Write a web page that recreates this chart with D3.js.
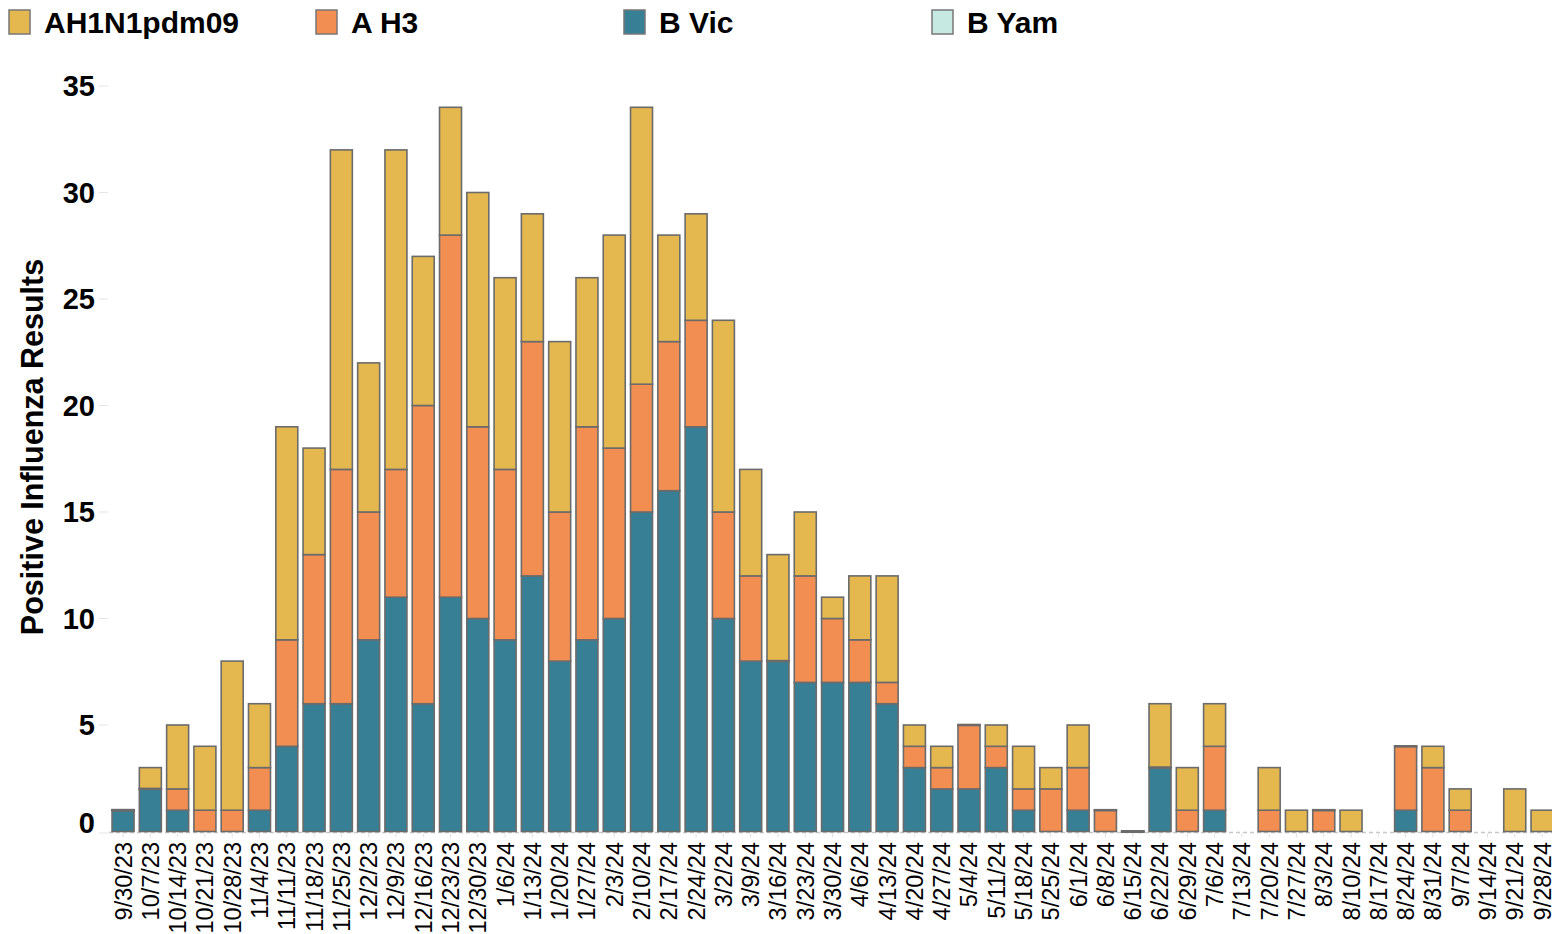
<!DOCTYPE html>
<html>
<head>
<meta charset="utf-8">
<script src="https://cdn.jsdelivr.net/npm/d3@7"></script>
<style>
  html, body { margin: 0; padding: 0; background: #fff; overflow: hidden; }
  svg { display: block; font-family: "Liberation Sans", Arial, sans-serif; }
</style>
</head>
<body>
<div id="chart"></div>
<script>
const weeks = ["9/30/23","10/7/23","10/14/23","10/21/23","10/28/23","11/4/23","11/11/23","11/18/23","11/25/23",
  "12/2/23","12/9/23","12/16/23","12/23/23","12/30/23","1/6/24","1/13/24","1/20/24","1/27/24","2/3/24","2/10/24",
  "2/17/24","2/24/24","3/2/24","3/9/24","3/16/24","3/23/24","3/30/24","4/6/24","4/13/24","4/20/24","4/27/24",
  "5/4/24","5/11/24","5/18/24","5/25/24","6/1/24","6/8/24","6/15/24","6/22/24","6/29/24","7/6/24","7/13/24",
  "7/20/24","7/27/24","8/3/24","8/10/24","8/17/24","8/24/24","8/31/24","9/7/24","9/14/24","9/21/24","9/28/24"];

// null = no results reported that week
const bYam = weeks.map((w, i) => [41, 46, 50].includes(i) ? null : 0);
const bVic = [1,2,1,0,0,1,4,6,6,9,11,6,11,10,9,12,8,9,10,15,16,19,10,8,8,7,7,7,6,3,2,2,3,1,0,1,0,0,3,0,1,null,0,0,0,0,null,1,0,0,null,0,0];
const aH3 = [0,0,1,1,1,2,5,7,11,6,6,14,17,9,8,11,7,10,8,6,7,5,5,4,0,5,3,2,1,1,1,3,1,1,2,2,1,0,0,1,3,null,1,0,1,0,null,3,3,1,null,0,0];
const aH1N1 = [0,1,3,3,7,3,10,5,15,7,15,7,6,11,9,6,8,7,10,13,5,5,9,5,5,3,1,3,5,1,1,0,1,2,1,2,0,0,3,2,2,null,2,1,0,1,null,0,1,1,null,2,1];

const legendNames = ["AH1N1pdm09", "A H3", "B Vic", "B Yam"];
const yTicks = [0, 5, 10, 15, 20, 25, 30, 35];

const series = [
  { name: "B Yam", values: bYam, color: "#c6e9e1" },
  { name: "B Vic", values: bVic, color: "#377f94" },
  { name: "A H3", values: aH3, color: "#f28e52" },
  { name: "AH1N1pdm09", values: aH1N1, color: "#e5b84f" }
];
const colorOf = name => series.find(s => s.name === name).color;

const width = 1552, height = 934;
const svg = d3.select('#chart').append('svg')
  .attr('width', width)
  .attr('height', height);

const xScale = d3.scaleBand()
  .domain(weeks)
  .range([109.4, 1555.7])
  .paddingInner(0.194)
  .paddingOuter(0.097);

const yScale = d3.scaleLinear()
  .domain([0, 35])
  .range([831.5, 86]);

// build stacked segments
const segments = [];
weeks.forEach((w, i) => {
  let base = 0;
  const total = d3.sum(series, s => s.values[i] || 0);
  series.forEach(s => {
    const v = s.values[i];
    if (v === null) return;
    segments.push({ week: w, name: s.name, y0: base, y1: base + v, value: v, total: total });
    base += v;
  });
});

// baseline (dashed)
svg.append('line')
  .attr('x1', 109).attr('x2', width)
  .attr('y1', yScale(0) + 1).attr('y2', yScale(0) + 1)
  .attr('stroke', '#c8c8c8')
  .attr('stroke-width', 1.5)
  .attr('stroke-dasharray', '4,3');

// x ticks
svg.append('g').selectAll('line')
  .data(weeks)
  .join('line')
  .attr('x1', d => xScale(d) + xScale.bandwidth() / 2)
  .attr('x2', d => xScale(d) + xScale.bandwidth() / 2)
  .attr('y1', yScale(0) + 2).attr('y2', yScale(0) + 6)
  .attr('stroke', '#e2e2e2');

// y ticks + labels
const yAxis = svg.append('g');
yAxis.selectAll('line')
  .data(yTicks)
  .join('line')
  .attr('x1', 99).attr('x2', 108)
  .attr('y1', d => yScale(d) + (d === 0 ? 1.5 : 0))
  .attr('y2', d => yScale(d) + (d === 0 ? 1.5 : 0))
  .attr('stroke', '#e4e4e4');
yAxis.selectAll('text')
  .data(yTicks)
  .join('text')
  .attr('x', 95)
  .attr('y', d => yScale(d) - (d === 0 ? 9 : 0))
  .attr('dy', '0.36em')
  .attr('text-anchor', 'end')
  .attr('font-weight', 'bold')
  .attr('font-size', 29)
  .attr('fill', '#000')
  .text(d => d);

// y axis title
svg.append('text')
  .attr('transform', 'translate(43,447) rotate(-90)')
  .attr('text-anchor', 'middle')
  .attr('font-weight', 'bold')
  .attr('font-size', 30.5)
  .attr('fill', '#000')
  .text('Positive Influenza Results');

// bars: non-zero segments first, zero-value segments drawn on top as thin marks
const bars = svg.append('g');
const drawSeg = (sel) => sel
  .attr('x', d => xScale(d.week))
  .attr('width', xScale.bandwidth())
  .attr('y', d => d.value > 0 ? yScale(d.y1) : yScale(d.y1) - 0.5)
  .attr('height', d => Math.max(1, yScale(d.y0) - yScale(d.y1)))
  .attr('fill', d => colorOf(d.name))
  .attr('stroke', '#6b6b6b')
  .attr('stroke-width', 1.6);

bars.append('g').selectAll('rect')
  .data(segments.filter(d => d.value > 0))
  .join('rect')
  .call(drawSeg);

bars.append('g').selectAll('rect')
  .data(segments.filter(d => d.value === 0 && d.name !== 'B Yam' && (d.y0 > 0 || d.total === 0)))
  .join('rect')
  .call(drawSeg);

// x labels
svg.append('g').selectAll('text')
  .data(weeks)
  .join('text')
  .attr('transform', d => `translate(${xScale(d) + xScale.bandwidth() / 2},842) rotate(-90)`)
  .attr('dy', '0.36em')
  .attr('text-anchor', 'end')
  .attr('font-size', 23.5)
  .attr('fill', '#000')
  .text(d => d);

// legend
const legendX = [8, 315, 623, 931];
const legend = svg.append('g').selectAll('g')
  .data(legendNames)
  .join('g')
  .attr('transform', (d, i) => `translate(${legendX[i]},0)`);
legend.append('rect')
  .attr('x', 1).attr('y', 10)
  .attr('width', 21).attr('height', 24)
  .attr('fill', d => colorOf(d))
  .attr('stroke', '#777')
  .attr('stroke-width', 1.5);
legend.append('text')
  .attr('x', 36).attr('y', 33)
  .attr('font-weight', 'bold')
  .attr('font-size', 30)
  .attr('fill', '#000')
  .text(d => d);
</script>
</body>
</html>
